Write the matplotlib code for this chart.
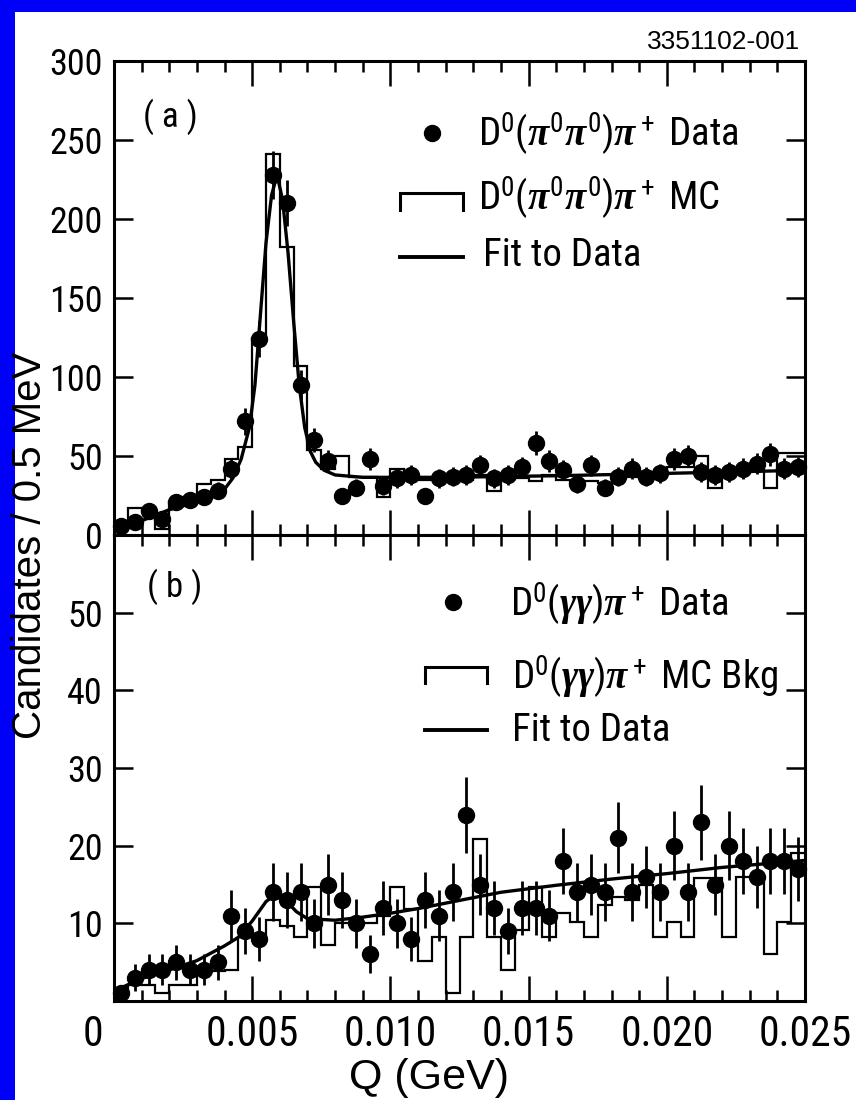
import numpy as np
import matplotlib
matplotlib.use('Agg')
import matplotlib.pyplot as plt
from matplotlib import font_manager
from matplotlib.patches import Rectangle
from matplotlib.ticker import MultipleLocator
from matplotlib.transforms import ScaledTranslation

# Q binning: 0.5 MeV bins from 0 to 25 MeV
bin_width = 0.0005
n_bins = 50

# (a) D0(pi0 pi0) pi+ : data counts, MC histogram and fitted curve
a_data = [6, 8, 15, 10, 21, 22, 24, 28, 42, 72,
          124, 228, 210, 95, 60, 47, 25, 30, 48, 31,
          36, 38, 25, 36, 37, 38, 44, 36, 38, 43,
          58, 47, 41, 32, 44, 30, 37, 42, 37, 39,
          48, 50, 40, 38, 40, 42, 45, 51, 42, 43]
a_mc = [6, 17, 15, 4, 21, 24, 32, 35, 48, 56,
        125, 241, 182, 107, 54, 42, 50, 37, 37, 24,
        42, 38, 35, 35, 35, 35, 38, 28, 38, 36,
        34, 38, 35, 33, 34, 33, 36, 37, 36, 38,
        43, 43, 50, 30, 40, 40, 42, 30, 52, 52]
a_fit_q = [0.0, 0.0005, 0.0010, 0.0015, 0.0020, 0.0025, 0.0030, 0.0035, 0.0040,
           0.0043, 0.0046, 0.0049, 0.0051, 0.0053, 0.0055, 0.0057, 0.0059,
           0.0061, 0.0063, 0.0065, 0.0067, 0.0069, 0.0071, 0.0073, 0.0076,
           0.0080, 0.0090, 0.0120, 0.0160, 0.0200, 0.0250]
a_fit_y = [2, 5, 9, 12.5, 16, 18.5, 21, 24, 29,
           36, 48, 68, 95, 140, 185, 215, 228,
           212, 178, 135, 95, 68, 53, 46, 41,
           38, 36.5, 36.5, 37.5, 39, 41]

# (b) D0(gamma gamma) pi+ : data counts, MC background and fitted curve
b_data = [1, 3, 4, 4, 5, 4, 4, 5, 11, 9,
          8, 14, 13, 14, 10, 15, 13, 10, 6, 12,
          10, 8, 13, 11, 14, 24, 15, 12, 9, 12,
          12, 11, 18, 14, 15, 14, 21, 14, 16, 14,
          20, 14, 23, 15, 20, 18, 16, 18, 18, 17]
b_mc = [1.0, 2.0, 2.0, 1.0, 2.0, 2.0, 3.8, 3.8, 4.0, 8.3,
        8.3, 10.4, 9.6, 8.3, 14.7, 7.2, 10.0, 10.0, 10.0, 10.9,
        14.7, 11.9, 5.1, 8.3, 1.0, 8.3, 20.9, 8.3, 4.0, 9.1,
        14.7, 8.3, 11.3, 10.2, 8.3, 12.4, 13.4, 13.0, 15.0, 8.3,
        10.2, 8.3, 15.8, 15.8, 8.3, 16.0, 16.0, 6.1, 10.2, 19.0]
b_fit_q = [0.0002, 0.0010, 0.0020, 0.0030, 0.0040, 0.0045, 0.0050, 0.0055,
           0.0058, 0.0062, 0.0066, 0.0070, 0.0080, 0.0090, 0.0100, 0.0110,
           0.0120, 0.0140, 0.0160, 0.0180, 0.0200, 0.0220, 0.0240, 0.0250]
b_fit_y = [1.6, 2.9, 4.0, 5.2, 7.1, 8.2, 10.3, 12.8,
           13.6, 13.0, 11.5, 10.6, 10.4, 10.8, 11.3, 11.9,
           12.6, 14.0, 14.9, 15.7, 16.4, 17.2, 17.8, 18.1]

q_ticks = [0.0, 0.005, 0.010, 0.015, 0.020, 0.025]
q_tick_labels = ['0', '0.005', '0.010', '0.015', '0.020', '0.025']
a_yticks = [0, 50, 100, 150, 200, 250, 300]
b_yticks = [10, 20, 30, 40, 50]


def pick_narrow_font():
    """Narrow Helvetica-like face if there is one, else Liberation Sans scaled down."""
    names = {f.name for f in font_manager.fontManager.ttflist}
    for name in ('Liberation Sans Narrow', 'Roboto Condensed', 'Open Sans Condensed'):
        if name in names:
            return name, 1.0
    return 'Liberation Sans', 0.84


NARROW, SCALE = pick_narrow_font()
WIDE = ['Liberation Sans', 'DejaVu Sans']

plt.rcParams['font.family'] = [NARROW, 'Liberation Sans', 'DejaVu Sans']
plt.rcParams['mathtext.fontset'] = 'custom'
plt.rcParams['mathtext.rm'] = NARROW
plt.rcParams['mathtext.it'] = 'Liberation Serif:italic:bold'
plt.rcParams['mathtext.bf'] = NARROW + ':bold'

edges = np.arange(n_bins + 1) * bin_width
centers = edges[:-1] + bin_width / 2

fig = plt.figure(figsize=(8.56, 11.0), dpi=100)
fig.patch.set_facecolor('#0000f8')
fig.add_artist(Rectangle((15 / 856, 0), 1 - 15 / 856, 1 - 12 / 1100,
                         transform=fig.transFigure, facecolor='white',
                         edgecolor='none', zorder=-5))

left, width = 114 / 856, 691 / 856
ax_a = fig.add_axes([left, 1 - 535 / 1100, width, 474 / 1100])
ax_b = fig.add_axes([left, 1 - 1001 / 1100, width, 466 / 1100])

MS = 11.5  # marker size (pt)


def style_axis(ax, ymax, yticks):
    ax.set_xlim(0, 0.025)
    ax.set_ylim(0, ymax)
    ax.xaxis.set_major_locator(MultipleLocator(0.005))
    ax.xaxis.set_minor_locator(MultipleLocator(0.001))
    ax.set_yticks(yticks)
    ax.tick_params(which='both', direction='in', top=True, right=True,
                   width=1.8, colors='black')
    ax.tick_params(axis='x', which='major', length=18)
    ax.tick_params(axis='x', which='minor', length=8)
    ax.tick_params(axis='y', which='major', length=14, pad=8,
                   labelsize=26 * SCALE)
    for s in ax.spines.values():
        s.set_linewidth(2.2)


def draw_panel(ax, data, mc, fit_q, fit_y):
    counts = np.asarray(data, dtype=float)
    ax.stairs(mc, edges, baseline=None, color='black', linewidth=1.6, zorder=2)
    ax.plot(fit_q, fit_y, color='black', linewidth=2.4, zorder=3)
    ax.errorbar(centers, counts, yerr=np.sqrt(counts), fmt='o', color='black',
                ms=MS, elinewidth=2.0, capsize=0, zorder=4, clip_on=False)


def draw_key(ax, xm, ym, xs0, xs1, ys_top, ys_low, yl, xt, labels, ty):
    # data marker, MC bracket, fit line and their labels
    ax.plot([xm], [ym], 'o', color='black', ms=MS, transform=ax.transAxes)
    ax.plot([xs0, xs0, xs1, xs1], [ys_low, ys_top, ys_top, ys_low], color='black',
            linewidth=2.2, transform=ax.transAxes, solid_joinstyle='miter')
    ax.plot([xs0, xs1], [yl, yl], color='black', linewidth=2.8, transform=ax.transAxes)
    for lab, x, y in zip(labels, xt, ty):
        ax.text(x, y, lab, transform=ax.transAxes, fontsize=28 * SCALE,
                ha='left', va='center')


draw_panel(ax_a, a_data, a_mc, a_fit_q, a_fit_y)
draw_panel(ax_b, b_data, b_mc, b_fit_q, b_fit_y)

style_axis(ax_a, 300, a_yticks)
style_axis(ax_b, 60, b_yticks)
ax_a.tick_params(axis='x', labelbottom=False)
ax_b.set_xticks(q_ticks, labels=q_tick_labels)
ax_b.tick_params(axis='x', which='major', labelsize=30 * SCALE, pad=9)

# shift the "0" label of the Q axis to the left of the frame
ax_b.xaxis.get_major_ticks(len(q_ticks))
zero_lbl = ax_b.xaxis.get_major_ticks()[0].label1
zero_lbl.set_transform(zero_lbl.get_transform() +
                       ScaledTranslation(-0.21, 0, fig.dpi_scale_trans))

draw_key(ax_a, 0.460, 0.848, 0.414, 0.505, 0.7215, 0.686, 0.5865,
         [0.527, 0.527, 0.534],
         [r'D$^0$($\pi^0\pi^0$)$\pi^+$ Data',
          r'D$^0$($\pi^0\pi^0$)$\pi^+$ MC',
          'Fit to Data'],
         [0.846, 0.711, 0.590])
draw_key(ax_b, 0.4906, 0.856, 0.450, 0.540, 0.717, 0.682, 0.5815,
         [0.573, 0.576, 0.576],
         [r'D$^0$($\gamma\gamma$)$\pi^+$ Data',
          r'D$^0$($\gamma\gamma$)$\pi^+$ MC Bkg',
          'Fit to Data'],
         [0.852, 0.697, 0.580])

ax_a.text(0.081, 0.882, '( a )', transform=ax_a.transAxes, fontsize=25 * SCALE,
          ha='center', va='center')
ax_b.text(0.088, 0.888, '( b )', transform=ax_b.transAxes, fontsize=25 * SCALE,
          ha='center', va='center')

fig.text(30 / 856, 1 - 545 / 1100, 'Candidates / 0.5 MeV', rotation=90,
         family=WIDE, fontsize=29, ha='center', va='center')
fig.text(429 / 856, 1 - 1078 / 1100, 'Q (GeV)', family=WIDE,
         fontsize=31, ha='center', va='center')
fig.text(800 / 856, 1 - 42 / 1100, '3351102-001', family=WIDE,
         fontsize=19, ha='right', va='center')

fig.savefig('out.png', dpi=100, facecolor=fig.get_facecolor())
